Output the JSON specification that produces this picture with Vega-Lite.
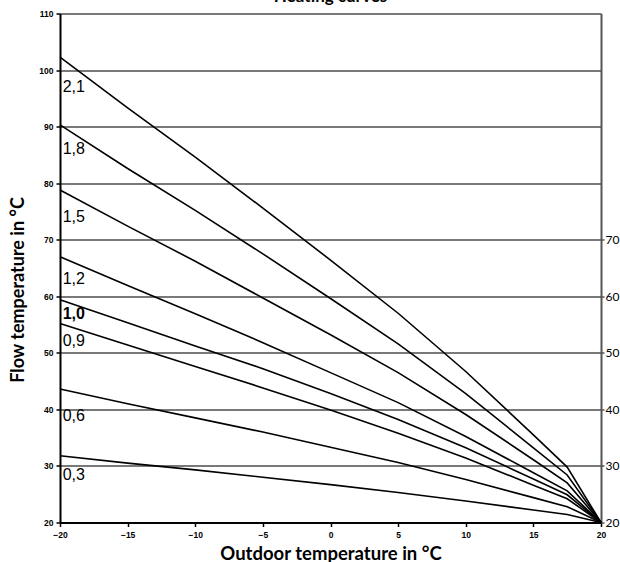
{
  "$schema": "https://vega.github.io/schema/vega-lite/v6.json",
  "width": 541,
  "height": 509,
  "autosize": {"type": "none"},
  "padding": {"left": 60, "top": 13.5, "right": 19, "bottom": 39.5},
  "background": "white",
  "title": {"text": "Heating curves", "font": "Lato", "fontSize": 17, "fontWeight": "bold", "color": "black", "anchor": "middle", "offset": -9, "baseline": "alphabetic"},
  "config": {"view": {"stroke": null}},
  "datasets": {
    "curves": [
      {"curve": "2,1", "t": -20, "v": 102.3}, {"curve": "2,1", "t": -15, "v": 93.3}, {"curve": "2,1", "t": -10, "v": 84.6}, {"curve": "2,1", "t": -5, "v": 75.6}, {"curve": "2,1", "t": 0, "v": 66.4}, {"curve": "2,1", "t": 5, "v": 57.0}, {"curve": "2,1", "t": 10, "v": 46.7}, {"curve": "2,1", "t": 15, "v": 35.5}, {"curve": "2,1", "t": 17.5, "v": 29.8}, {"curve": "2,1", "t": 20, "v": 20},
      {"curve": "1,8", "t": -20, "v": 90.3}, {"curve": "1,8", "t": -15, "v": 82.6}, {"curve": "1,8", "t": -10, "v": 75.2}, {"curve": "1,8", "t": -5, "v": 67.5}, {"curve": "1,8", "t": 0, "v": 59.6}, {"curve": "1,8", "t": 5, "v": 51.6}, {"curve": "1,8", "t": 10, "v": 42.8}, {"curve": "1,8", "t": 15, "v": 33.2}, {"curve": "1,8", "t": 17.5, "v": 28.4}, {"curve": "1,8", "t": 20, "v": 20},
      {"curve": "1,5", "t": -20, "v": 78.8}, {"curve": "1,5", "t": -15, "v": 72.4}, {"curve": "1,5", "t": -10, "v": 66.2}, {"curve": "1,5", "t": -5, "v": 59.7}, {"curve": "1,5", "t": 0, "v": 53.2}, {"curve": "1,5", "t": 5, "v": 46.5}, {"curve": "1,5", "t": 10, "v": 39.1}, {"curve": "1,5", "t": 15, "v": 31.1}, {"curve": "1,5", "t": 17.5, "v": 27.0}, {"curve": "1,5", "t": 20, "v": 20},
      {"curve": "1,2", "t": -20, "v": 67.0}, {"curve": "1,2", "t": -15, "v": 61.9}, {"curve": "1,2", "t": -10, "v": 56.9}, {"curve": "1,2", "t": -5, "v": 51.8}, {"curve": "1,2", "t": 0, "v": 46.5}, {"curve": "1,2", "t": 5, "v": 41.2}, {"curve": "1,2", "t": 10, "v": 35.2}, {"curve": "1,2", "t": 15, "v": 28.8}, {"curve": "1,2", "t": 17.5, "v": 25.6}, {"curve": "1,2", "t": 20, "v": 20},
      {"curve": "1,0", "t": -20, "v": 59.4}, {"curve": "1,0", "t": -15, "v": 55.3}, {"curve": "1,0", "t": -10, "v": 51.2}, {"curve": "1,0", "t": -5, "v": 47.2}, {"curve": "1,0", "t": 0, "v": 42.8}, {"curve": "1,0", "t": 5, "v": 38.2}, {"curve": "1,0", "t": 10, "v": 33.2}, {"curve": "1,0", "t": 15, "v": 27.7}, {"curve": "1,0", "t": 17.5, "v": 24.9}, {"curve": "1,0", "t": 20, "v": 20},
      {"curve": "0,9", "t": -20, "v": 55.2}, {"curve": "0,9", "t": -15, "v": 51.4}, {"curve": "0,9", "t": -10, "v": 47.6}, {"curve": "0,9", "t": -5, "v": 43.8}, {"curve": "0,9", "t": 0, "v": 39.9}, {"curve": "0,9", "t": 5, "v": 35.8}, {"curve": "0,9", "t": 10, "v": 31.4}, {"curve": "0,9", "t": 15, "v": 26.6}, {"curve": "0,9", "t": 17.5, "v": 24.2}, {"curve": "0,9", "t": 20, "v": 20},
      {"curve": "0,6", "t": -20, "v": 43.6}, {"curve": "0,6", "t": -15, "v": 41.0}, {"curve": "0,6", "t": -10, "v": 38.5}, {"curve": "0,6", "t": -5, "v": 36.0}, {"curve": "0,6", "t": 0, "v": 33.3}, {"curve": "0,6", "t": 5, "v": 30.6}, {"curve": "0,6", "t": 10, "v": 27.6}, {"curve": "0,6", "t": 15, "v": 24.4}, {"curve": "0,6", "t": 17.5, "v": 22.8}, {"curve": "0,6", "t": 20, "v": 20},
      {"curve": "0,3", "t": -20, "v": 31.8}, {"curve": "0,3", "t": -15, "v": 30.5}, {"curve": "0,3", "t": -10, "v": 29.3}, {"curve": "0,3", "t": -5, "v": 28.0}, {"curve": "0,3", "t": 0, "v": 26.7}, {"curve": "0,3", "t": 5, "v": 25.3}, {"curve": "0,3", "t": 10, "v": 23.8}, {"curve": "0,3", "t": 15, "v": 22.2}, {"curve": "0,3", "t": 17.5, "v": 21.4}, {"curve": "0,3", "t": 20, "v": 20}
    ],
    "labels": [
      {"label": "2,1", "t": -19.8, "v": 97.0},
      {"label": "1,8", "t": -19.8, "v": 86.0},
      {"label": "1,5", "t": -19.8, "v": 74.0},
      {"label": "1,2", "t": -19.8, "v": 63.0},
      {"label": "1,0", "t": -19.8, "v": 56.9},
      {"label": "0,9", "t": -19.8, "v": 52.1},
      {"label": "0,6", "t": -19.8, "v": 38.9},
      {"label": "0,3", "t": -19.8, "v": 28.4}
    ]
  },
  "layer": [
    {
      "data": {"name": "curves"},
      "mark": {"type": "line", "color": "black", "strokeWidth": 1.6},
      "encoding": {
        "x": {"field": "t", "type": "quantitative", "scale": {"domain": [-20, 20], "nice": false, "zero": false},
          "axis": {"values": [-20, -15, -10, -5, 0, 5, 10, 15, 20], "title": "Outdoor temperature in °C", "titleFont": "Lato", "titleFontSize": 18.5, "titleFontWeight": "bold", "titleColor": "black", "titlePadding": 5, "labelFont": "Liberation Sans", "labelFontSize": 8.5, "labelFontWeight": "bold", "labelColor": "black", "labelPadding": 4, "labelFlush": false, "tickColor": "black", "tickSize": 4, "tickWidth": 1.5, "domainColor": "black", "domainWidth": 2, "grid": false}},
        "y": {"field": "v", "type": "quantitative", "scale": {"domain": [20, 110], "nice": false, "zero": false},
          "axis": {"values": [20, 30, 40, 50, 60, 70, 80, 90, 100, 110], "title": "Flow temperature in °C", "titleFont": "Lato", "titleFontSize": 18, "titleFontWeight": "bold", "titleColor": "black", "titleX": -37, "titleY": 276, "titleBaseline": "alphabetic", "titleAngle": -90, "labelFont": "Liberation Sans", "labelFontSize": 8.5, "labelFontWeight": "bold", "labelColor": "black", "labelPadding": 3, "labelFlush": false, "tickColor": "black", "tickSize": 4, "tickWidth": 1.5, "domainColor": "black", "domainWidth": 2, "grid": true, "gridColor": "#4d4d4d", "gridWidth": 1.5, "gridOpacity": 1}},
        "detail": {"field": "curve"}
      }
    },
    {
      "data": {"name": "labels"},
      "transform": [{"filter": "datum.label != '1,0'"}],
      "mark": {"type": "text", "align": "left", "baseline": "middle", "font": "Liberation Sans", "fontSize": 16, "color": "black"},
      "encoding": {
        "x": {"field": "t", "type": "quantitative"},
        "y": {"field": "v", "type": "quantitative",
          "axis": {"orient": "right", "values": [20, 30, 40, 50, 60, 70], "title": null, "labelFont": "Lato", "labelFontSize": 12, "labelColor": "black", "labelPadding": 1, "labelFlush": false, "tickColor": "#555555", "tickSize": 3, "tickWidth": 1.5, "domainColor": "#555555", "domainWidth": 2, "grid": false}},
        "text": {"field": "label"}
      }
    },
    {
      "data": {"name": "labels"},
      "transform": [{"filter": "datum.label == '1,0'"}],
      "mark": {"type": "text", "align": "left", "baseline": "middle", "font": "Liberation Sans", "fontSize": 16, "fontWeight": "bold", "color": "black"},
      "encoding": {
        "x": {"field": "t", "type": "quantitative"},
        "y": {"field": "v", "type": "quantitative", "axis": null},
        "text": {"field": "label"}
      }
    }
  ],
  "resolve": {"axis": {"y": "independent"}}
}
